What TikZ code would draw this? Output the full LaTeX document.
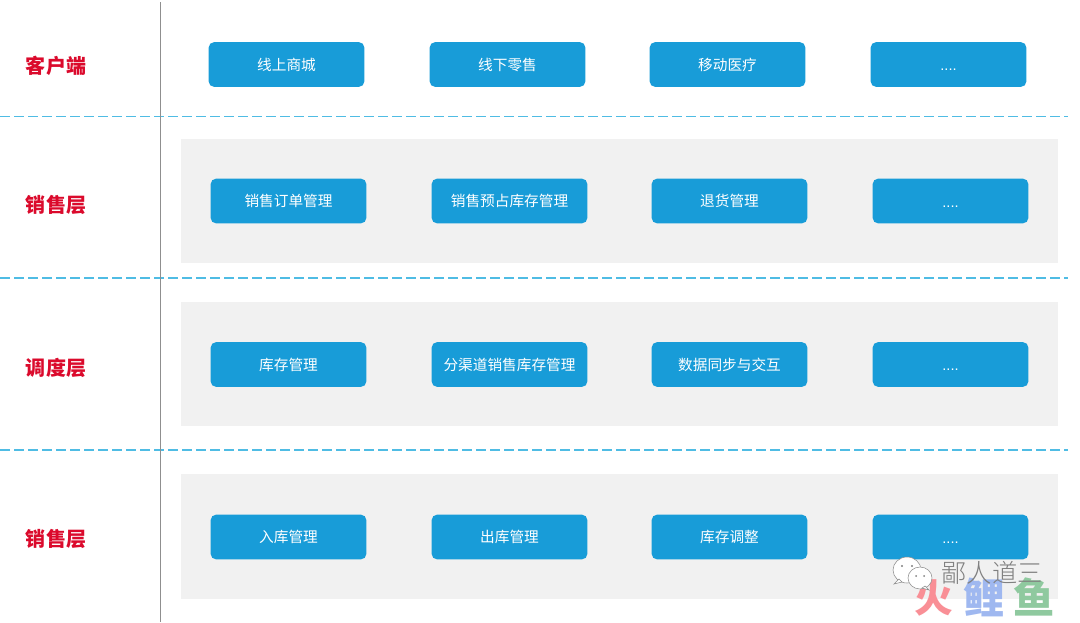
\documentclass[tikz,border=0pt]{standalone}
\usepackage{fontspec}
\setmainfont{Noto Sans CJK SC}
\newfontfamily\cjkthin{Noto Sans CJK SC Light}
\newfontfamily\dotfont{Liberation Sans}
\newcommand{\dotstxt}{\raisebox{-4.5pt}[0pt][0pt]{\dotfont ....}}
\definecolor{btn}{HTML}{189CD8}
\definecolor{lab}{HTML}{DB0A2C}
\definecolor{band}{HTML}{F1F1F1}
\definecolor{dash}{HTML}{4FBCE4}
\definecolor{axis}{HTML}{8F8F8F}
\definecolor{wred}{HTML}{F98F96}
\definecolor{wblue}{HTML}{9FB8F0}
\definecolor{wgreen}{HTML}{8FC99F}
\tikzset{
 x=0.75pt,y=-0.75pt,
 btnbox/.style={fill=btn,rounded corners=4pt,minimum width=116.75pt,minimum height=33.5pt,inner sep=0pt,text=white,font=\fontsize{11}{13}\selectfont},
 laybl/.style={text=lab,font=\fontsize{15}{18}\selectfont\bfseries,inner sep=0pt},
 bandbox/.style={fill=band,draw=none,minimum width=657.75pt,minimum height=93.5pt,inner sep=0pt},
 sepline/.style={draw=dash,line width=0.8pt,dash pattern=on 7.5pt off 3pt},
 axisline/.style={draw=axis,line width=0.9pt},
 bubble/.style={draw=black!45,fill=white,line width=0.4pt},
}
\begin{document}
\begin{tikzpicture}
\useasboundingbox (0,0) rectangle (1080,622);
\fill[white] (0,0) rectangle (1080,622);
% bands
\node[bandbox] (b2) at (619.5,201) {};
\node[bandbox] (b3) at (619.5,364) {};
\node[bandbox] (b4) at (619.5,536.5) {};
% separators
\coordinate (s1a) at (0,116.5); \coordinate (s1b) at (1068,116.5);
\coordinate (s2a) at (0,278); \coordinate (s2b) at (1068,278);
\coordinate (s3a) at (0,450); \coordinate (s3b) at (1068,450);
\draw[sepline] (s1a) -- (s1b);
\draw[sepline] (s2a) -- (s2b);
\draw[sepline] (s3a) -- (s3b);
\coordinate (va) at (160.5,2); \coordinate (vb) at (160.5,622);
\draw[axisline] (va) -- (vb);
% labels
\node[laybl] (l1) at (56,66) {客户端};
\node[laybl] (l2) at (56,204.5) {销售层};
\node[laybl] (l3) at (56,367.5) {调度层};
\node[laybl] (l4) at (56,539) {销售层};
% row 1
\node[btnbox] (a1) at (286.5,64.5) {线上商城};
\node[btnbox] (a2) at (507.5,64.5) {线下零售};
\node[btnbox] (a3) at (727.5,64.5) {移动医疗};
\node[btnbox] (a4) at (948.5,64.5) {\dotstxt};
% row 2
\node[btnbox] (c1) at (288.5,201) {销售订单管理};
\node[btnbox] (c2) at (509.5,201) {销售预占库存管理};
\node[btnbox] (c3) at (729.5,201) {退货管理};
\node[btnbox] (c4) at (950.5,201) {\dotstxt};
% row 3
\node[btnbox] (d1) at (288.5,364.5) {库存管理};
\node[btnbox] (d2) at (509.5,364.5) {分渠道销售库存管理};
\node[btnbox] (d3) at (729.5,364.5) {数据同步与交互};
\node[btnbox] (d4) at (950.5,364.5) {\dotstxt};
% row 4
\node[btnbox] (e1) at (288.5,537) {入库管理};
\node[btnbox] (e2) at (509.5,537) {出库管理};
\node[btnbox] (e3) at (729.5,537) {库存调整};
\node[btnbox] (e4) at (950.5,537) {\dotstxt};
% watermark
\node[inner sep=0pt,text=wred,font=\fontsize{29}{32}\selectfont\bfseries] (w2) at (934,598) {火};
\node[inner sep=0pt,text=wblue,font=\fontsize{31}{34}\selectfont\bfseries] (w3) at (984,597) {鲤};
\node[inner sep=0pt,text=wgreen,font=\fontsize{31}{34}\selectfont\bfseries] (w4) at (1034,597) {鱼};
\draw[bubble] (907,570) ellipse [x radius=14,y radius=13];
\draw[bubble] (894,584) -- (899,579) -- (902,582) -- cycle;
\draw[bubble] (920,578) ellipse [x radius=12,y radius=11];
\draw[bubble] (929,590) -- (925,586) -- (922,588) -- cycle;
\fill[black!50] (902,566) circle (1.1) (912,566) circle (1.1) (916,576) circle (1) (924,576) circle (1);
\node[inner sep=0pt,text=black!50,font=\cjkthin\fontsize{19}{22}\selectfont] (w1) at (992,573) {鄙人道三};
\end{tikzpicture}
\end{document}
